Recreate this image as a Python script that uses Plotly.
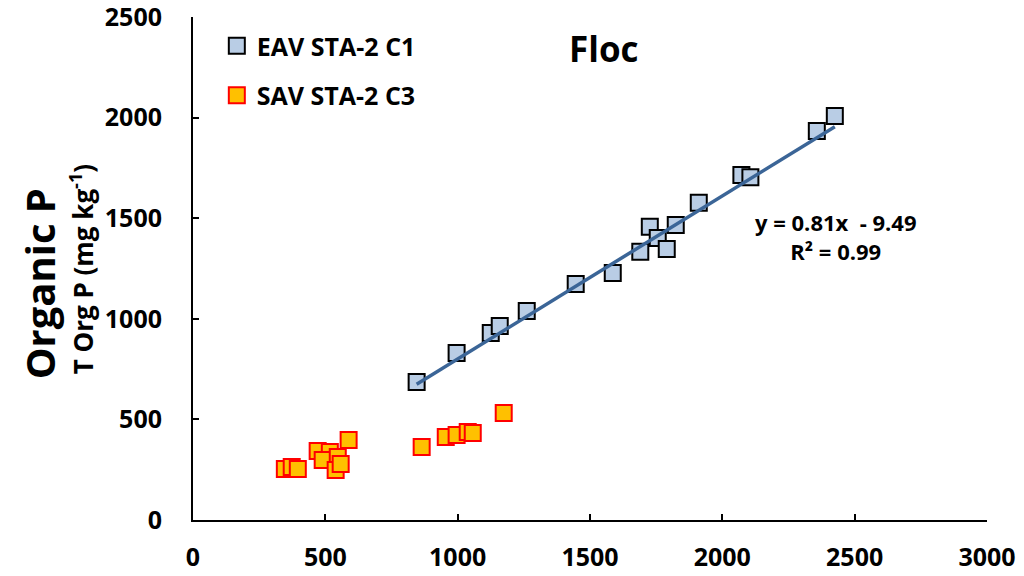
import plotly.graph_objects as go
import numpy as np

# ---- data ----
eav_name = "EAV STA-2 C1"
eav_x = [845, 996, 1125, 1159, 1261, 1446, 1586, 1690, 1726, 1756, 1790, 1824, 1911, 2072, 2106, 2357, 2425]
eav_y = [686, 830, 929, 964, 1039, 1173, 1228, 1333, 1458, 1401, 1347, 1466, 1577, 1715, 1703, 1933, 2008]

sav_name = "SAV STA-2 C3"
sav_x = [347, 373, 396, 471, 517, 490, 547, 539, 558, 588, 864, 955, 996, 1038, 1057, 1174]
sav_y = [253, 263, 253, 343, 338, 298, 313, 249, 278, 398, 363, 413, 422, 437, 432, 532]

fit_slope = 0.81
fit_intercept = -9.49
fit_r2 = 0.99

x_ticks = [0, 500, 1000, 1500, 2000, 2500, 3000]
y_ticks = [0, 500, 1000, 1500, 2000, 2500]

title_text = "Floc"
ytitle_main = "Organic P"
ytitle_sub = "T Org P (mg kg<sup>-1</sup>)"

FONT = "Open Sans"

fig = go.Figure()

fig.add_trace(go.Scatter(
    x=eav_x, y=eav_y, mode="markers", name=eav_name, legendgroup="a",
    marker=dict(symbol="square", size=16, color="#B9CDE5",
                line=dict(color="#000000", width=2)),
))
fig.add_trace(go.Scatter(
    x=sav_x, y=sav_y, mode="markers", name=sav_name, legendgroup="b",
    marker=dict(symbol="square", size=16, color="#FFC000",
                line=dict(color="#FF0000", width=2)),
))

# regression line over the EAV range
fx = np.array([min(eav_x), max(eav_x)], dtype=float)
fy = fit_slope * fx + fit_intercept
fig.add_trace(go.Scatter(
    x=fx, y=fy, mode="lines", showlegend=False,
    line=dict(color="#3B6597", width=3.5),
))

fig.add_annotation(
    x=0.81, y=0.563, xref="paper", yref="paper", xanchor="center", yanchor="middle",
    text=f"y = {fit_slope:.2f}x  - {abs(fit_intercept):.2f}<br>R\u00b2 = {fit_r2:.2f}",
    showarrow=False, align="center",
    font=dict(family=FONT, size=22, color="#000000", weight="bold"),
)

fig.add_annotation(
    x=0.518, y=0.938, xref="paper", yref="paper", xanchor="center", yanchor="middle",
    text=title_text, showarrow=False,
    font=dict(family=FONT, size=35, color="#000000", weight="bold"),
)

fig.add_annotation(
    x=-0.193, y=0.47, xref="paper", yref="paper", xanchor="center", yanchor="middle",
    text=ytitle_main, showarrow=False, textangle=-90,
    font=dict(family=FONT, size=40, color="#000000", weight="bold"),
)

fig.add_annotation(
    x=-0.14, y=0.5, xref="paper", yref="paper", xanchor="center", yanchor="middle",
    text=ytitle_sub, showarrow=False, textangle=-90,
    font=dict(family=FONT, size=26, color="#000000", weight="bold"),
)

axis_common = dict(
    showgrid=False, zeroline=False, showline=True, linecolor="#000000", linewidth=2,
    ticks="inside", ticklen=6, tickwidth=1.5, tickcolor="#000000", automargin=False,
    ticklabeloverflow="allow",
    tickfont=dict(family=FONT, size=25, color="#000000", weight="bold"),
)

fig.update_xaxes(range=[0, 3000], tickvals=x_ticks, ticklabelstandoff=14, **axis_common)
fig.update_yaxes(range=[0, 2500], tickvals=y_ticks, ticklabelstandoff=24, **axis_common)

fig.update_layout(
    width=1024, height=576,
    margin=dict(l=193, r=37, t=17, b=56),
    plot_bgcolor="#FFFFFF", paper_bgcolor="#FFFFFF",
    font=dict(family=FONT, color="#000000"),
    legend=dict(x=0.03, y=0.988, xanchor="left", yanchor="top",
                bgcolor="rgba(0,0,0,0)", tracegroupgap=14,
                font=dict(family=FONT, size=25, color="#000000", weight="bold"),
                itemwidth=30),
    showlegend=True,
)

fig.write_html("out.html", config={"displayModeBar": False},
               post_script="document.body.style.margin='0px';")
